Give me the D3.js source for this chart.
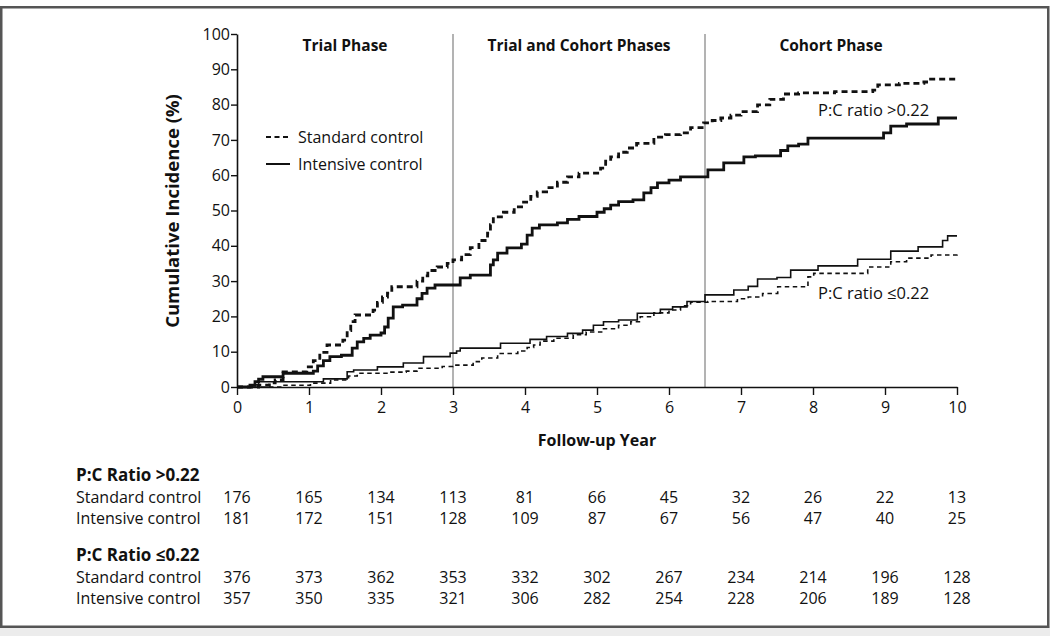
<!DOCTYPE html>
<html><head><meta charset="utf-8">
<script src="https://cdn.jsdelivr.net/npm/d3@7"></script>
<style>
html,body{margin:0;padding:0;background:#fff;}
svg{display:block;font-family:"Open Sans",sans-serif;}
</style></head>
<body>
<svg id="c" width="1050" height="636"></svg>
<script>
// ---- data ----
const yTicks = [0,10,20,30,40,50,60,70,80,90,100];
const xTicks = [0,1,2,3,4,5,6,7,8,9,10];
const phaseBreaks = [3, 6.5];
const phaseLabels = ["Trial Phase","Trial and Cohort Phases","Cohort Phase"];
const phaseCenters = [1.5, 4.75, 8.25];

// [year, cumulative incidence %] — step curves
const stdHigh = [[0,0],[0.3,0.5],[0.45,1.2],[0.53,2.0],[0.64,4.3],[0.97,5.7],[1.06,7.5],[1.15,9.8],[1.25,11.9],[1.47,13.3],[1.53,16],[1.58,18.5],[1.64,20.4],[1.89,21.8],[1.95,24],[2.02,25.5],[2.09,26.6],[2.15,28.4],[2.5,30],[2.58,31.5],[2.65,33],[2.78,34],[2.92,35],[3.0,36],[3.12,37.5],[3.24,39.5],[3.36,41.5],[3.48,43.6],[3.52,46],[3.56,48.2],[3.7,49.5],[3.85,51],[3.98,52.4],[4.08,54],[4.17,55.3],[4.3,56.5],[4.45,58],[4.59,59.5],[4.75,60.6],[5.05,62],[5.12,64],[5.19,65.2],[5.3,66.5],[5.42,67.7],[5.55,69],[5.79,70.8],[5.95,71.5],[6.16,72],[6.3,73.5],[6.48,74.8],[6.6,75.5],[6.72,76.2],[6.86,77],[7.0,78],[7.23,79.9],[7.4,81.5],[7.59,83],[7.8,83.3],[8.3,83.7],[8.83,84.1],[8.9,85.6],[9.2,86],[9.54,86.4],[9.6,87.2],[10,87.2]];
const intHigh = [[0,0],[0.18,0.5],[0.25,1.5],[0.3,2.2],[0.36,2.9],[0.64,3.9],[1.06,4.5],[1.12,6],[1.2,7.5],[1.29,8.6],[1.45,9],[1.6,11],[1.67,12.8],[1.76,13.8],[1.85,14.7],[2.0,15.3],[2.05,17],[2.1,19.5],[2.17,22.7],[2.3,23.2],[2.5,25],[2.57,26.5],[2.64,28],[2.75,28.9],[3.1,30.9],[3.24,31.7],[3.52,34.6],[3.56,36],[3.62,37.9],[3.75,39.4],[3.95,40.5],[4.03,43],[4.1,45],[4.2,45.9],[4.45,46.5],[4.59,47.5],[4.75,48.3],[5.0,49.5],[5.1,50.5],[5.19,51.5],[5.3,52.5],[5.5,53],[5.65,55],[5.75,56.5],[5.84,57.8],[6.0,58.6],[6.16,59.5],[6.54,61.5],[6.76,63.5],[7.04,65.2],[7.2,65.5],[7.55,67],[7.65,68.3],[7.8,68.8],[7.93,70.5],[8.98,72],[9.08,73.9],[9.3,74.5],[9.74,76.2],[10,76.2]];
const stdLow = [[0,0],[0.64,0.5],[1.02,1.1],[1.3,2.0],[1.55,3.1],[1.67,3.9],[2.1,4.2],[2.35,4.5],[2.5,5.3],[2.85,5.8],[3.0,6.2],[3.28,7.2],[3.4,8.2],[3.62,9.5],[3.9,10.2],[4.03,11.2],[4.12,11.9],[4.21,13],[4.4,13.8],[4.67,14.8],[4.85,15.6],[5.09,16.5],[5.3,17.5],[5.47,18.5],[5.6,19.9],[5.79,21.0],[6.0,21.8],[6.16,23],[6.3,24],[6.54,24.2],[6.95,25],[7.1,25.5],[7.3,26.5],[7.51,28.4],[7.93,31.2],[8.01,32.2],[8.76,34],[9.08,35.5],[9.3,36.5],[9.64,37.4],[10,37.6]];
const intLow = [[0,0],[0.18,0.6],[0.3,1.5],[1.2,2.3],[1.53,4.3],[1.62,4.8],[1.95,5.7],[2.31,6.8],[2.59,8.6],[2.96,9.6],[3.05,10.2],[3.1,11],[3.66,12.4],[4.07,13.5],[4.3,14.3],[4.59,15.2],[4.8,16.1],[4.95,17.5],[5.09,18.5],[5.3,19],[5.56,20.9],[5.88,22],[6.05,22.7],[6.25,24.2],[6.5,26.1],[6.9,27.5],[7.1,28.5],[7.23,30.6],[7.5,31],[7.69,33.1],[8.07,34.3],[8.62,36.2],[9.08,38.5],[9.46,39.7],[9.8,41.5],[9.87,42.8],[10,42.8]];

// numbers at risk
const riskGroups = ["P:C Ratio >0.22","P:C Ratio \u22640.22"];
const riskRowLabels = ["Standard control","Intensive control"];
const riskHighStd = [176,165,134,113,81,66,45,32,26,22,13];
const riskHighInt = [181,172,151,128,109,87,67,56,47,40,25];
const riskLowStd  = [376,373,362,353,332,302,267,234,214,196,128];
const riskLowInt  = [357,350,335,321,306,282,254,228,206,189,128];

// ---- drawing ----
const svg = d3.select("#c");
const x = d3.scaleLinear().domain([0,10]).range([237,957]);
const y = d3.scaleLinear().domain([0,100]).range([387,34]);

// frame
svg.append("rect").attr("x",0).attr("y",626).attr("width",1050).attr("height",10).attr("fill","#ececec");
svg.append("rect").attr("x",1.25).attr("y",7.25).attr("width",1047).attr("height",619.5)
  .attr("fill","none").attr("stroke","#555").attr("stroke-width",2.5);

// phase dividers
svg.selectAll(".phase").data(phaseBreaks).join("line")
  .attr("x1",d=>x(d)).attr("x2",d=>x(d)).attr("y1",y(100)).attr("y2",y(0))
  .attr("stroke","#9a9a9a").attr("stroke-width",1.5);
svg.selectAll(".plab").data(phaseLabels).join("text")
  .attr("x",(d,i)=>x(phaseCenters[i])).attr("y",51)
  .attr("text-anchor","middle").attr("font-weight","bold").attr("font-size",15.5)
  .attr("fill","#111").text(d=>d);

// axes
const yAxis = d3.axisLeft(y).tickValues(yTicks).tickSize(6).tickSizeOuter(0);
const gy = svg.append("g").attr("transform",`translate(${x(0)},0)`).call(yAxis);
const xAxis = d3.axisBottom(x).tickValues(xTicks).tickSize(8).tickSizeOuter(0);
const gx = svg.append("g").attr("transform",`translate(0,${y(0)})`).call(xAxis);
[gx,gy].forEach(g=>{
  g.select(".domain").attr("stroke","#111").attr("stroke-width",1.6);
  g.selectAll(".tick line").attr("stroke","#111").attr("stroke-width",1.4);
  g.selectAll("text").attr("font-family","'Open Sans',sans-serif").attr("font-size",16).attr("fill","#111");
});
gy.selectAll("text").attr("x",-7);
gx.selectAll("text").attr("y",15);

svg.append("text").attr("transform","translate(179,211) rotate(-90)")
  .attr("text-anchor","middle").attr("font-weight","bold").attr("font-size",18.5)
  .attr("fill","#111").text("Cumulative Incidence (%)");
svg.append("text").attr("x",x(5)).attr("y",446)
  .attr("text-anchor","middle").attr("font-weight","bold").attr("font-size",16)
  .attr("fill","#111").text("Follow-up Year");

// curves
const line = d3.line().x(d=>x(d[0])).y(d=>y(d[1])).curve(d3.curveStepAfter);
const curves = [
  {data:stdHigh, w:2.8, dash:"6,4"},
  {data:intHigh, w:2.8, dash:null},
  {data:stdLow,  w:1.6, dash:"4.5,3.5"},
  {data:intLow,  w:1.6, dash:null}
];
svg.selectAll(".curve").data(curves).join("path")
  .attr("d",d=>line(d.data)).attr("fill","none").attr("stroke","#111")
  .attr("stroke-width",d=>d.w).attr("stroke-dasharray",d=>d.dash);

// legend
const legend = [{label:"Standard control",dash:"5,3.5"},{label:"Intensive control",dash:null}];
const lg = svg.selectAll(".lg").data(legend).join("g")
  .attr("transform",(d,i)=>`translate(266,${137+i*27})`);
lg.append("line").attr("x1",0).attr("x2",24).attr("stroke","#111").attr("stroke-width",2)
  .attr("stroke-dasharray",d=>d.dash);
lg.append("text").attr("x",32).attr("y",5.5).attr("font-size",16).attr("fill","#111").text(d=>d.label);

// curve annotations
svg.append("text").attr("x",818).attr("y",116).attr("font-size",16.5).attr("fill","#111").text("P:C ratio >0.22");
svg.append("text").attr("x",818).attr("y",299).attr("font-size",16.5).attr("fill","#111").text("P:C ratio \u22640.22");

// numbers-at-risk table
const tbl = [
  {head:riskGroups[0], y:481, rows:[riskHighStd,riskHighInt]},
  {head:riskGroups[1], y:561, rows:[riskLowStd,riskLowInt]}
];
tbl.forEach(g=>{
  svg.append("text").attr("x",76).attr("y",g.y).attr("font-weight","bold").attr("font-size",17)
    .attr("fill","#111").text(g.head);
  g.rows.forEach((vals,ri)=>{
    const yy = g.y + 22 + ri*20.5;
    svg.append("text").attr("x",76).attr("y",yy).attr("font-size",16).attr("fill","#111").text(riskRowLabels[ri]);
    svg.selectAll(null).data(vals).join("text")
      .attr("x",(d,i)=>x(xTicks[i])).attr("y",yy).attr("text-anchor","middle")
      .attr("font-size",16).attr("fill","#111").text(d=>d);
  });
});
</script>
</body></html>
